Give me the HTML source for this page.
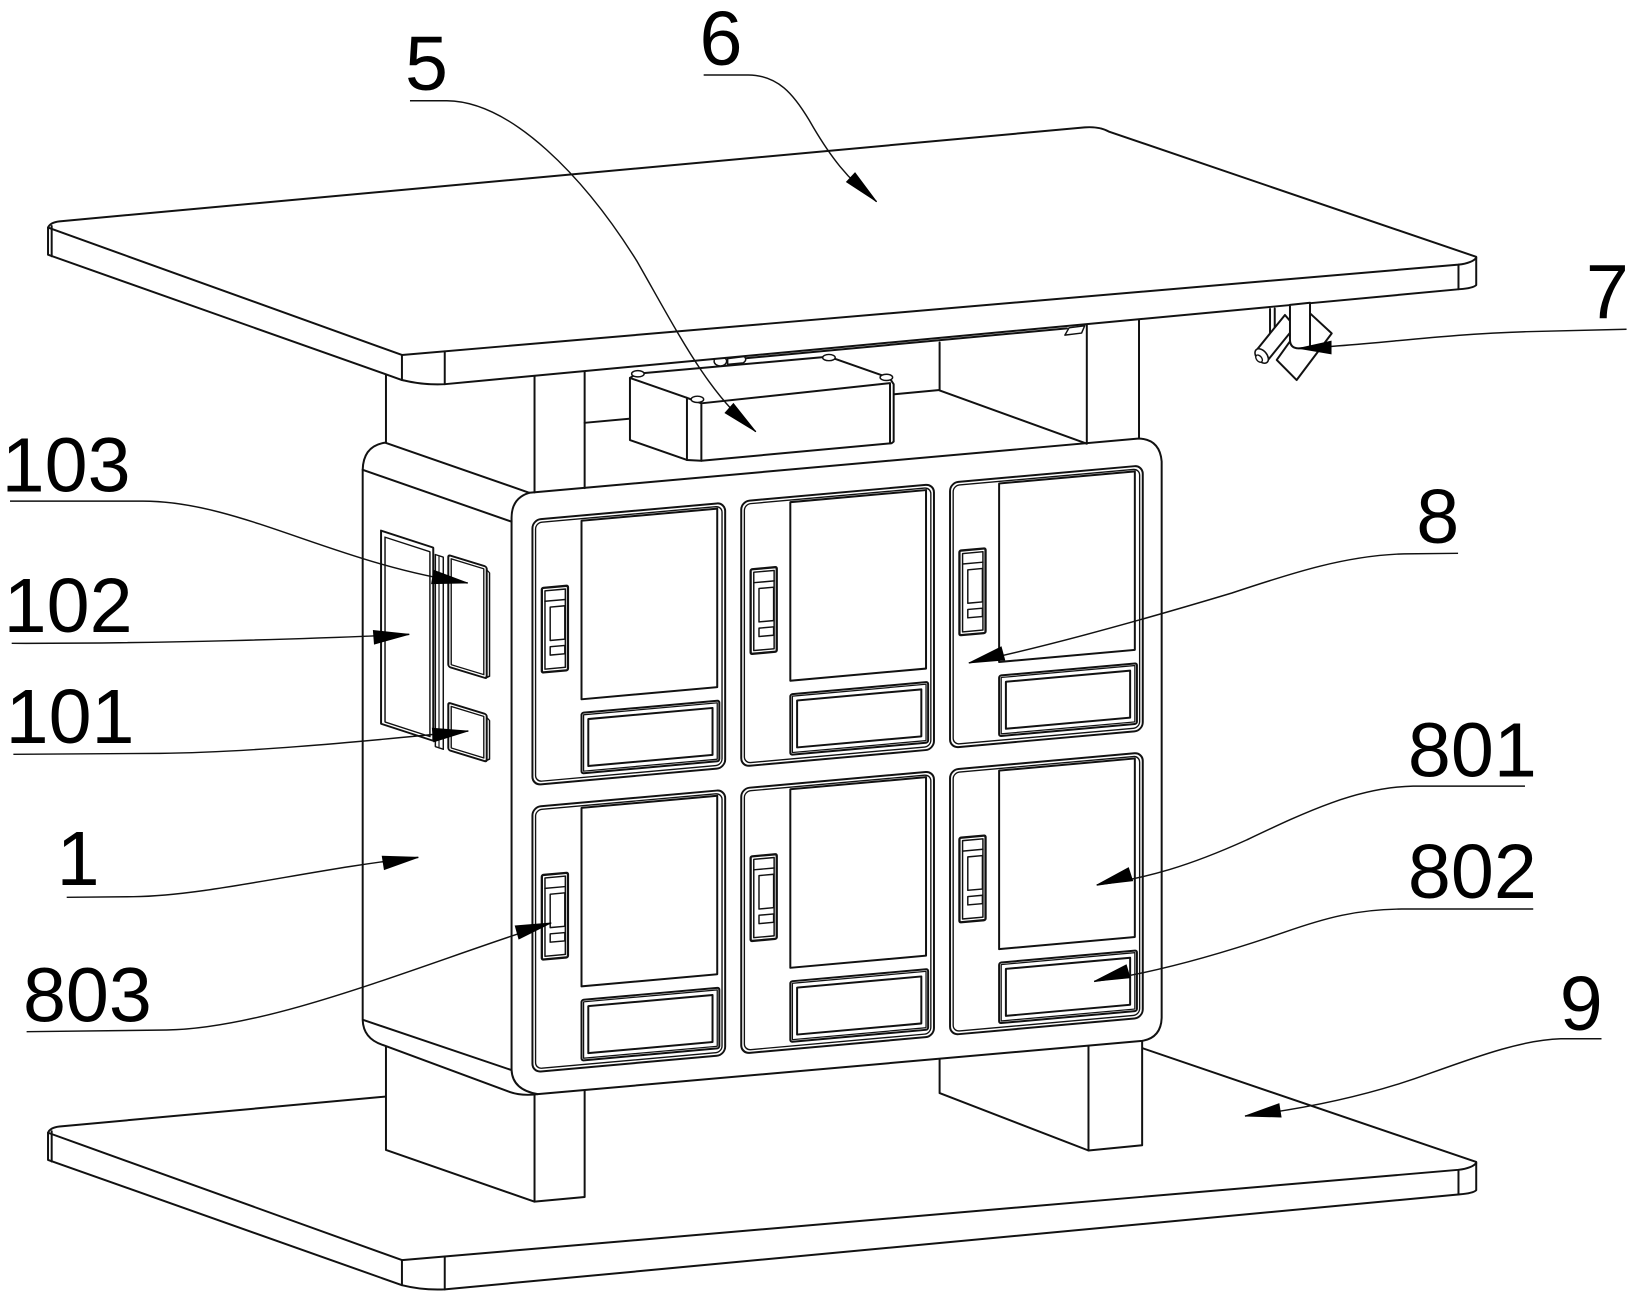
<!DOCTYPE html>
<html>
<head>
<meta charset="utf-8">
<style>
html,body{margin:0;padding:0;background:#fff;}
svg{display:block;}
text{font-family:"Liberation Sans",Arial,sans-serif;font-size:74px;fill:#000;}
</style>
</head>
<body>
<svg width="1637" height="1300" viewBox="0 0 1568 1245.2" preserveAspectRatio="none" xmlns="http://www.w3.org/2000/svg">
<g fill="#fff" stroke="#111" stroke-width="1.9" stroke-linejoin="round" stroke-linecap="round">

<!-- ===== BASE PLATE (9) ===== -->
<g transform="translate(0,867)">
  <path d="M46,218 Q48,213 57,212 L1039,122 Q1053,121 1062,126 L1414,246 L1414,273 Q1411,276 1398,277 L426,368 Q405,369 385,364 L46,244 Z"/>
  <path fill="none" d="M46,218 L385,340 L1397,253.5 Q1410,252 1414,247"/>
  <path fill="none" d="M385,340 L385,364 M426,336.5 L426,368 M1397,253.5 L1397,277 M49.5,216.5 L49.5,245.5"/>
</g>

<!-- ===== LEGS ===== -->
<path d="M369.7,990 L369.7,1101.5 L512,1151 L560,1146.5 L560,990 Z"/>
<path fill="none" d="M512,990 L512,1151"/>
<path d="M900,990 L900,1047 L1042.6,1102 L1094,1097 L1094,990 Z"/>
<path fill="none" d="M1042.6,990 L1042.6,1102"/>

<!-- ===== CABINET (1) ===== -->
<path d="M347.4,450 Q348,427 369,424 L507,472 L1091,420 Q1111,421 1112.7,442 L1112.7,975 Q1112,994 1094,997 L515,1048 Q500,1050 488.5,1046 L367,1001 Q348,995 347.4,977 Z"/>
<path fill="none" d="M347.4,450 L490,499.7"/>
<path fill="none" d="M507,472 Q490,477 490,496 L490,1025 Q491,1044 515,1048"/>
<path fill="none" d="M348,977 L490,1025"/>

<!-- side panels 101/102/103 -->
<g transform="translate(365,508.3) skewY(18)">
  <rect x="0" y="0" width="50" height="185"/>
  <rect x="3.8" y="5" width="43" height="177" stroke-width="1.4"/>
  <rect x="52" y="6" width="7.6" height="184" stroke-width="1.4"/>
  <line x1="55.5" y1="7" x2="55.5" y2="189" stroke-width="1.1"/>
</g>
<g transform="translate(429.4,531.6) skewY(17)">
  <rect x="0" y="0" width="36.8" height="107" rx="2"/>
  <rect x="2.8" y="2.8" width="31.2" height="101.4" stroke-width="1.3"/>
  <path fill="none" d="M36.8,3 L39.5,5 L39.5,104 L36.8,106" stroke-width="1.4"/>
</g>
<g transform="translate(429.4,673) skewY(17)">
  <rect x="0" y="0" width="36.8" height="45.4" rx="2"/>
  <rect x="2.8" y="2.8" width="31.2" height="39.8" stroke-width="1.3"/>
  <path fill="none" d="M36.8,3 L39.5,5 L39.5,42 L36.8,44" stroke-width="1.4"/>
</g>

<!-- doors (8) -->
<g transform="translate(510,498) skewY(-5.1)">
  <rect x="0" y="0" width="184.6" height="254" rx="8"/>
  <rect x="3" y="3" width="178.6" height="248" rx="6" stroke-width="1.3"/>
  <rect x="47" y="5" width="130" height="171"/>
  <rect x="47" y="189" width="132" height="58" rx="2"/>
  <rect x="49" y="191" width="128" height="54" stroke-width="1.2"/>
  <rect x="53.5" y="195.5" width="119" height="45"/>
  <rect x="9" y="66" width="25" height="81" rx="1.5" stroke-width="2.2"/>
  <rect x="12" y="69" width="19.5" height="75" stroke-width="1.4"/>
  <line x1="12" y1="79" x2="31.5" y2="79" stroke-width="1.4"/>
  <rect x="17" y="85" width="14" height="32" stroke-width="1.4"/>
  <rect x="17" y="123" width="14" height="8" stroke-width="1.4"/>
</g>
<g transform="translate(710,480.2) skewY(-5.1)">
  <rect x="0" y="0" width="184.6" height="254" rx="8"/>
  <rect x="3" y="3" width="178.6" height="248" rx="6" stroke-width="1.3"/>
  <rect x="47" y="5" width="130" height="171"/>
  <rect x="47" y="189" width="132" height="58" rx="2"/>
  <rect x="49" y="191" width="128" height="54" stroke-width="1.2"/>
  <rect x="53.5" y="195.5" width="119" height="45"/>
  <rect x="9" y="66" width="25" height="81" rx="1.5" stroke-width="2.2"/>
  <rect x="12" y="69" width="19.5" height="75" stroke-width="1.4"/>
  <line x1="12" y1="79" x2="31.5" y2="79" stroke-width="1.4"/>
  <rect x="17" y="85" width="14" height="32" stroke-width="1.4"/>
  <rect x="17" y="123" width="14" height="8" stroke-width="1.4"/>
</g>
<g transform="translate(910,462.3) skewY(-5.1)">
  <rect x="0" y="0" width="184.6" height="254" rx="8"/>
  <rect x="3" y="3" width="178.6" height="248" rx="6" stroke-width="1.3"/>
  <rect x="47" y="5" width="130" height="171"/>
  <rect x="47" y="189" width="132" height="58" rx="2"/>
  <rect x="49" y="191" width="128" height="54" stroke-width="1.2"/>
  <rect x="53.5" y="195.5" width="119" height="45"/>
  <rect x="9" y="66" width="25" height="81" rx="1.5" stroke-width="2.2"/>
  <rect x="12" y="69" width="19.5" height="75" stroke-width="1.4"/>
  <line x1="12" y1="79" x2="31.5" y2="79" stroke-width="1.4"/>
  <rect x="17" y="85" width="14" height="32" stroke-width="1.4"/>
  <rect x="17" y="123" width="14" height="8" stroke-width="1.4"/>
</g>
<g transform="translate(510,773) skewY(-5.1)">
  <rect x="0" y="0" width="184.6" height="254" rx="8"/>
  <rect x="3" y="3" width="178.6" height="248" rx="6" stroke-width="1.3"/>
  <rect x="47" y="5" width="130" height="171"/>
  <rect x="47" y="189" width="132" height="58" rx="2"/>
  <rect x="49" y="191" width="128" height="54" stroke-width="1.2"/>
  <rect x="53.5" y="195.5" width="119" height="45"/>
  <rect x="9" y="66" width="25" height="81" rx="1.5" stroke-width="2.2"/>
  <rect x="12" y="69" width="19.5" height="75" stroke-width="1.4"/>
  <line x1="12" y1="79" x2="31.5" y2="79" stroke-width="1.4"/>
  <rect x="17" y="85" width="14" height="32" stroke-width="1.4"/>
  <rect x="17" y="123" width="14" height="8" stroke-width="1.4"/>
</g>
<g transform="translate(710,755.2) skewY(-5.1)">
  <rect x="0" y="0" width="184.6" height="254" rx="8"/>
  <rect x="3" y="3" width="178.6" height="248" rx="6" stroke-width="1.3"/>
  <rect x="47" y="5" width="130" height="171"/>
  <rect x="47" y="189" width="132" height="58" rx="2"/>
  <rect x="49" y="191" width="128" height="54" stroke-width="1.2"/>
  <rect x="53.5" y="195.5" width="119" height="45"/>
  <rect x="9" y="66" width="25" height="81" rx="1.5" stroke-width="2.2"/>
  <rect x="12" y="69" width="19.5" height="75" stroke-width="1.4"/>
  <line x1="12" y1="79" x2="31.5" y2="79" stroke-width="1.4"/>
  <rect x="17" y="85" width="14" height="32" stroke-width="1.4"/>
  <rect x="17" y="123" width="14" height="8" stroke-width="1.4"/>
</g>
<g transform="translate(910,737.3) skewY(-5.1)">
  <rect x="0" y="0" width="184.6" height="254" rx="8"/>
  <rect x="3" y="3" width="178.6" height="248" rx="6" stroke-width="1.3"/>
  <rect x="47" y="5" width="130" height="171"/>
  <rect x="47" y="189" width="132" height="58" rx="2"/>
  <rect x="49" y="191" width="128" height="54" stroke-width="1.2"/>
  <rect x="53.5" y="195.5" width="119" height="45"/>
  <rect x="9" y="66" width="25" height="81" rx="1.5" stroke-width="2.2"/>
  <rect x="12" y="69" width="19.5" height="75" stroke-width="1.4"/>
  <line x1="12" y1="79" x2="31.5" y2="79" stroke-width="1.4"/>
  <rect x="17" y="85" width="14" height="32" stroke-width="1.4"/>
  <rect x="17" y="123" width="14" height="8" stroke-width="1.4"/>
</g>

<!-- ===== COLUMNS & BACK RAIL ===== -->
<path fill="none" d="M369.7,358.7 L369.7,424 M512,359 L512,471.6 M560,354.6 L560,467.5"/>
<path fill="none" d="M900,328 L900,374 L1041,425 M1041,310 L1041,425 M1091,305 L1091,420"/>
<path fill="none" d="M560,405 L900,373.6"/>

<!-- ===== BOX (5) ===== -->
<path d="M603.4,362 L609.6,358 L794,341.6 L852,362 L856,368 L856,423 L854,424.6 L671.8,441.3 L658,440.6 L603.4,421.5 Z"/>
<path fill="none" d="M603.4,362 L658,381 L671.8,386.3 L852.5,367 M658,381 L658,440.6 M671.8,386.3 L671.8,441.3 M852.5,367 L852.5,424.6"/>
<ellipse cx="611" cy="358" rx="6" ry="3" stroke-width="1.4"/>
<ellipse cx="668" cy="382.5" rx="6" ry="3" stroke-width="1.4"/>
<ellipse cx="794" cy="342.5" rx="6" ry="3" stroke-width="1.4"/>
<ellipse cx="849" cy="361.5" rx="6" ry="3" stroke-width="1.4"/>

<!-- under-plate rail -->
<path fill="none" d="M700,344.5 L1022,314.5"/>
<ellipse cx="690" cy="346" rx="6" ry="4.5" stroke-width="1.4"/>
<path d="M697,343.5 L713,341.5 Q716,345 712,347.5 L697,349 Z" stroke-width="1.4"/>
<path d="M1020,321 L1024,314 L1039,312 L1036,319 Z" stroke-width="1.4"/>

<!-- ===== TOP PLATE (6) ===== -->
<path d="M46,218 Q48,213 57,212 L1039,122 Q1053,121 1062,126 L1414,246 L1414,273 Q1411,276 1398,277 L426,368 Q405,369 385,364 L46,244 Z"/>
<path fill="none" d="M46,218 L385,340 L1397,253.5 Q1410,252 1414,247"/>
<path fill="none" d="M385,340 L385,364 M426,336.5 L426,368 M1397,253.5 L1397,277 M49.5,216.5 L49.5,245.5"/>

<!-- ===== CAMERA (7) ===== -->
<path fill="none" d="M1216.5,296 L1216.5,320 M1221,295.5 L1221,316"/>
<path d="M1254.8,300.1 L1275.6,319.3 L1242,364 L1222.9,344.8 Z"/>
<path d="M1230.8,301.7 L1240.4,312.9 L1213.3,346.4 L1203.7,335.2 Z"/>
<ellipse cx="1208.5" cy="341" rx="8" ry="5" transform="rotate(50 1208.5 341)" stroke-width="1.5"/>
<ellipse cx="1206" cy="343.5" rx="4" ry="2.5" transform="rotate(50 1206 343.5)" stroke-width="1.3"/>
<path d="M1235.6,292 L1235.6,326 Q1236,333.7 1244,333.7 L1254.8,333 L1254.8,290 Z"/>
</g>

<!-- ===== LEADER LINES ===== -->
<g fill="none" stroke="#111" stroke-width="1.4">
  <path d="M392.7,96.5 L428,96.5 C490,97 560,170 610,250 C650,320 680,380 724,413.5"/>
  <path d="M674,71.8 L716.8,71.8 C745,72 760,90 775,115 C795,150 812,172 839.7,193.2"/>
  <path d="M1558,315.4 L1462,317.7 C1380,320 1310,331 1243.6,333.7"/>
  <path d="M9.6,480 L137,480 C230,480 320,540 448,558.4"/>
  <path d="M11.2,616.2 C150,616.5 300,612 392,607.6"/>
  <path d="M12.8,722.5 L153,721.6 C230,721 330,712 448.6,700.2"/>
  <path d="M63.9,859.5 L127.7,858.9 C200,858 300,832 400.7,821.2"/>
  <path d="M25.5,988.2 L159.7,986.6 C260,985 400,925 528,884"/>
  <path d="M1396.6,530 L1345,530.5 C1290,532 1240,548 1180,568 C1100,592 1000,620 928,635"/>
  <path d="M1460.7,753 L1353.6,753 C1300,754 1250,778 1194,804.6 C1140,829 1100,841 1050.5,847.7"/>
  <path d="M1468.6,870.7 L1342.6,870.7 C1300,871 1270,879 1230,893 C1160,917 1100,933 1048,940"/>
  <path d="M1534,995 L1495,995 C1460,996 1420,1010 1370,1028 C1310,1050 1250,1062 1192.5,1069"/>
</g>

<!-- ===== ARROWHEADS ===== -->
<g fill="#000" stroke="#000" stroke-width="0.8" stroke-linejoin="miter">
  <polygon points="724,413.5 694.5,395.5 702.5,386.5"/>
  <polygon points="839.7,193.2 810.8,174.3 819,165.5"/>
  <polygon points="1243.6,333.7 1275,326.8 1275,339"/>
  <polygon points="448,558.4 413.4,559.1 415.6,546.3"/>
  <polygon points="392,607.6 358.6,616.9 357.6,603.9"/>
  <polygon points="448.6,700.2 415.5,710.5 414.1,697.5"/>
  <polygon points="400.7,821.2 368.1,832.9 366.1,820.1"/>
  <polygon points="528,884 497,899.4 493.5,886.9"/>
  <polygon points="928,635 959,619.6 962.4,632.2"/>
  <polygon points="1050.5,847.7 1080.9,831.2 1084.9,843.6"/>
  <polygon points="1048,940 1078.8,924.2 1082.4,936.6"/>
  <polygon points="1192.5,1069 1225.1,1057.2 1227.1,1070"/>
</g>

<!-- ===== LABELS ===== -->
<text x="388" y="86">5</text>
<text x="670" y="62.3">6</text>
<text x="1519" y="305">7</text>
<text x="1356.6" y="520">8</text>
<text x="1.6" y="471">103</text>
<text x="3.5" y="605.4">102</text>
<text x="5.4" y="711.7">101</text>
<text x="54.3" y="847.7">1</text>
<text x="22" y="978.6">803</text>
<text x="1348.6" y="744">801</text>
<text x="1348.6" y="860.2">802</text>
<text x="1494" y="986.5">9</text>
</svg>
</body>
</html>
